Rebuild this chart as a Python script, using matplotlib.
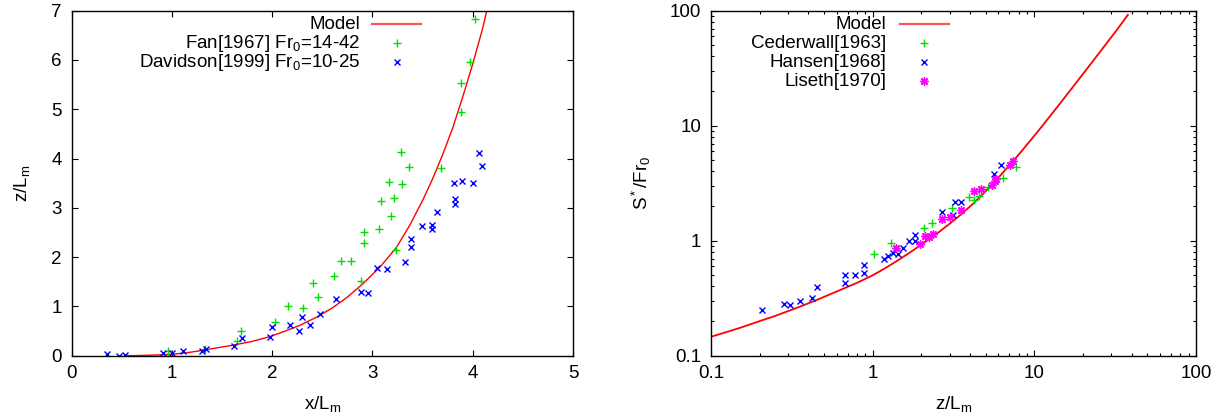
import matplotlib
matplotlib.use("Agg")
import matplotlib.pyplot as plt
from matplotlib.lines import Line2D

plt.rcParams['font.family'] = ['Liberation Sans', 'DejaVu Sans']
plt.rcParams['mathtext.fontset'] = 'custom'
plt.rcParams['mathtext.rm'] = 'Liberation Sans'
plt.rcParams['mathtext.it'] = 'Liberation Sans:italic'
plt.rcParams['font.size'] = 13.5

# ---- left panel: trajectory z/Lm vs x/Lm ----
model_x = [0.55, 0.7, 0.85, 1.0, 1.15, 1.31, 1.45, 1.6, 1.8, 1.98, 2.13, 2.28, 2.44, 2.6,
           2.75, 2.91, 3.08, 3.24, 3.37, 3.5, 3.6, 3.7, 3.8, 3.9, 4.0, 4.1, 4.14]
model_z = [0.0, 0.005, 0.015, 0.03, 0.06, 0.11, 0.16, 0.21, 0.29, 0.39, 0.50, 0.62, 0.78, 0.97,
           1.19, 1.47, 1.81, 2.2, 2.64, 3.15, 3.59, 4.08, 4.62, 5.25, 5.92, 6.65, 7.0]

fan_x = [4.02, 3.97, 3.88, 3.88, 3.28, 3.36, 3.68, 3.16, 3.29, 3.21, 3.08, 3.18, 3.07, 2.92, 2.92,
         3.23, 2.69, 2.79, 2.62, 2.89, 2.41, 2.46, 2.16, 2.31, 2.03, 1.69, 1.65, 1.33, 0.96]
fan_z = [6.84, 5.95, 5.53, 4.94, 4.14, 3.83, 3.80, 3.52, 3.48, 3.20, 3.14, 2.84, 2.58, 2.51, 2.28,
         2.15, 1.92, 1.93, 1.61, 1.51, 1.48, 1.20, 1.01, 0.97, 0.68, 0.51, 0.29, 0.14, 0.09]

dav_x = [4.06, 4.09, 3.81, 3.89, 4.00, 3.82, 3.82, 3.64, 3.49, 3.59, 3.59, 3.38, 3.38, 3.32, 3.05,
         3.14, 2.89, 2.96, 2.64, 2.48, 2.30, 2.38, 2.18, 2.27, 2.00, 1.98, 1.70, 1.62, 1.34, 1.30,
         1.11, 1.00, 0.91, 0.53, 0.47, 0.35]
dav_z = [4.11, 3.84, 3.51, 3.54, 3.51, 3.18, 3.08, 2.92, 2.63, 2.65, 2.57, 2.36, 2.21, 1.90, 1.77,
         1.75, 1.29, 1.28, 1.16, 0.84, 0.79, 0.63, 0.63, 0.51, 0.58, 0.38, 0.36, 0.20, 0.14, 0.10,
         0.09, 0.05, 0.05, 0.02, 0.0, 0.03]

# ---- right panel: S*/Fr0 vs z/Lm (log-log) ----
smodel_z = [0.1, 0.15, 0.2, 0.25, 0.35, 0.45, 0.6, 0.8, 1.0, 1.2, 1.4, 1.7, 2.0, 2.5, 3.0, 3.5,
            4.2, 4.8, 5.5, 6.2, 7.0, 7.43, 8.3, 10, 11.2, 14, 17, 20, 24, 28, 33, 37.9]
smodel_s = [0.146, 0.174, 0.200, 0.222, 0.265, 0.305, 0.362, 0.43, 0.50, 0.579, 0.661, 0.79,
            0.924, 1.155, 1.407, 1.68, 2.11, 2.54, 3.10, 3.73, 4.52, 4.97, 5.96, 8.18, 9.96,
            14.8, 21.0, 28.2, 39.3, 52.1, 70.5, 92.0]

ced_z = [1.02, 1.30, 2.08, 2.33, 3.11, 3.97, 4.24, 4.55, 5.14, 6.41, 7.69]
ced_s = [0.76, 0.95, 1.29, 1.43, 1.91, 2.39, 2.24, 2.47, 2.92, 3.50, 4.36]

han_z = [0.208, 0.283, 0.307, 0.357, 0.422, 0.45, 0.67, 0.67, 0.776, 0.89, 0.89, 1.17, 1.25,
         1.33, 1.44, 1.54, 1.68, 1.82, 1.84, 2.70, 3.15, 3.24, 3.53, 5.62, 6.22]
han_s = [0.248, 0.279, 0.275, 0.30, 0.317, 0.395, 0.43, 0.50, 0.50, 0.526, 0.618, 0.69, 0.73,
         0.78, 0.77, 0.86, 1.0, 1.12, 0.99, 1.76, 1.66, 2.15, 2.17, 3.81, 4.59]

lis_z = [1.40, 1.96, 2.12, 2.23, 2.35, 2.70, 3.02, 3.53, 4.24, 4.65, 5.51, 5.68, 5.76, 7.06, 7.43]
lis_s = [0.87, 0.94, 1.10, 1.07, 1.14, 1.53, 1.61, 1.84, 2.68, 2.83, 3.04, 3.31, 3.44, 4.51, 4.94]

RED = '#ff0000'
GREEN = '#00e000'
BLUE = '#0000ff'
MAGENTA = '#ff00ff'

model_style = dict(color=RED, lw=1.0, ls='-')
model_style2 = dict(color=RED, lw=1.3, ls='-')
key_line = dict(color='#ff5555', lw=1.6, ls='-')
plus_style = dict(ls='none', marker='+', ms=6, mew=1.0, color=GREEN)
cross_style = dict(ls='none', marker='x', ms=4.5, mew=1.0, color=BLUE)
star_style = dict(ls='none', marker=(8, 2, 0), ms=6, mew=1.0, color=MAGENTA)


def key(ax, entries, x_text, x_l, x_r, y0, dy):
    # gnuplot-like key: right aligned text, sample on the right
    for i, (label, style) in enumerate(entries):
        y = y0 - i * dy
        ax.text(x_text, y, label, transform=ax.transAxes, ha='right', va='center')
        if style.get('ls') == 'none':
            ax.add_line(Line2D([(x_l + x_r) / 2], [y], transform=ax.transAxes, **style))
        else:
            ax.add_line(Line2D([x_l, x_r], [y, y], transform=ax.transAxes, **style))


def frame(ax):
    for s in ax.spines.values():
        s.set_linewidth(1.0)
    ax.tick_params(which='both', direction='in', top=True, right=True, width=0.8)
    ax.tick_params(which='major', length=4, pad=7)
    ax.tick_params(which='minor', length=2.5)


fig = plt.figure(figsize=(12.28, 4.16), dpi=100)

ax1 = fig.add_axes([71.7 / 1228, 60.3 / 416, 501.3 / 1228, 345.0 / 416])
ax1.plot(model_x, model_z, **model_style)
ax1.plot(fan_x, fan_z, **plus_style)
ax1.plot(dav_x, dav_z, **cross_style)
ax1.set_xlim(0, 5)
ax1.set_ylim(0, 7)
ax1.set_xticks(range(6))
ax1.set_yticks(range(8))
ax1.set_xlabel(r'$\mathrm{x/L_m}$', labelpad=8)
ax1.set_ylabel(r'$\mathrm{z/L_m}$', labelpad=14)
frame(ax1)
key(ax1, [('Model', key_line),
          (r'Fan[1967] $\mathrm{Fr_0}$=14-42', plus_style),
          (r'Davidson[1999] $\mathrm{Fr_0}$=10-25', cross_style)],
    0.575, 0.599, 0.697, 0.961, 0.055)

ax2 = fig.add_axes([711 / 1228, 60.3 / 416, 485 / 1228, 345.0 / 416])
ax2.plot(smodel_z, smodel_s, **model_style2)
ax2.plot(ced_z, ced_s, **plus_style)
ax2.plot(han_z, han_s, **cross_style)
ax2.plot(lis_z, lis_s, **star_style)
ax2.set_xscale('log')
ax2.set_yscale('log')
ax2.set_xlim(0.1, 100)
ax2.set_ylim(0.1, 100)
ax2.set_xticks([0.1, 1, 10, 100], labels=['0.1', '1', '10', '100'])
ax2.set_yticks([0.1, 1, 10, 100], labels=['0.1', '1', '10', '100'])
ax2.set_xlabel(r'$\mathrm{z/L_m}$', labelpad=8)
ax2.set_ylabel(r'$\mathrm{S^*/Fr_0}$', labelpad=12)
frame(ax2)
key(ax2, [('Model', key_line),
          ('Cederwall[1963]', plus_style),
          ('Hansen[1968]', cross_style),
          ('Liseth[1970]', star_style)],
    0.362, 0.389, 0.490, 0.961, 0.055)

fig.savefig('out.png', dpi=100)
